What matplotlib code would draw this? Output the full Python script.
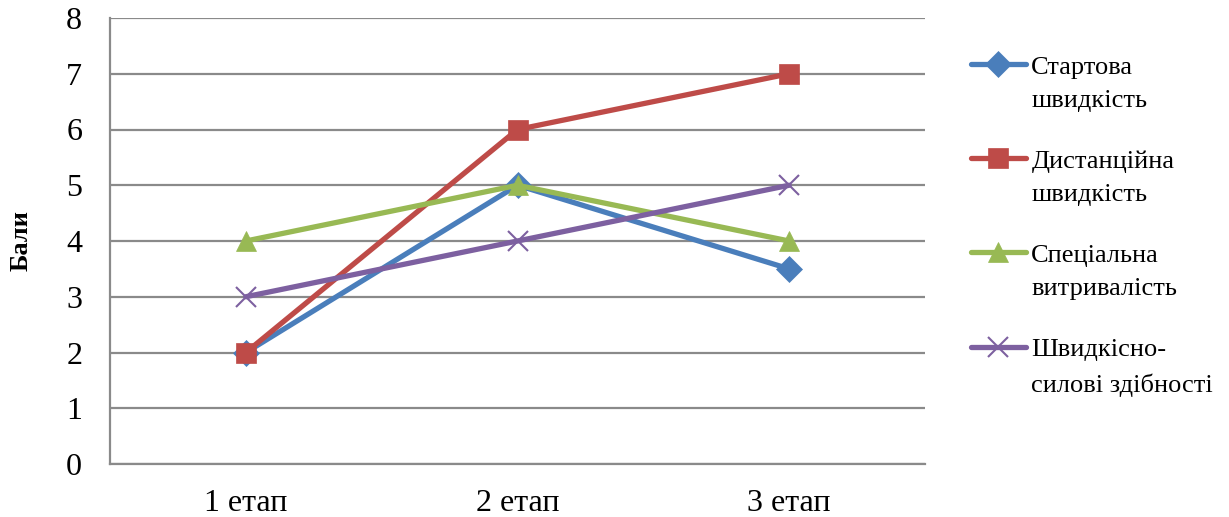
import numpy as np
import matplotlib.pyplot as plt
from matplotlib.lines import Line2D
from matplotlib.legend_handler import HandlerLine2D
from matplotlib.transforms import ScaledTranslation

plt.rcParams['font.family'] = ['Liberation Serif', 'DejaVu Serif']

stages = ['1 етап', '2 етап', '3 етап']
start_speed = [2, 5, 3.5]
distance_speed = [2, 6, 7]
special_endurance = [4, 5, 4]
speed_strength = [3, 4, 5]

series_labels = ['Стартова\nшвидкість', 'Дистанційна\nшвидкість',
                 'Спеціальна\nвитривалість', 'Швидкісно-\nсилові здібності']
colors = ['#4A7EBB', '#BE4B48', '#98B954', '#7D60A0']
markers = ['D', 's', '^', 'x']
marker_sizes = [13, 14, 15, 15]

grid_color = '#8A8A8A'

fig = plt.figure(figsize=(12.29, 5.17), dpi=100)
ax = fig.add_axes([110 / 1229, 1 - 464 / 517, 815 / 1229, 446 / 517])

x = np.arange(len(stages))
all_series = [start_speed, distance_speed, special_endurance, speed_strength]
for vals, lab, c, m, ms in zip(all_series, series_labels, colors, markers, marker_sizes):
    ax.plot(x, vals, color=c, lw=3.8, marker=m, markersize=ms,
            markeredgewidth=1.5 if m == 'x' else 0.5, markeredgecolor=c,
            label=lab, solid_capstyle='round', zorder=3)

ax.set_xlim(-0.5, 2.5)
ax.set_ylim(0, 8)
ax.set_yticks(range(0, 9))
ax.set_xticks(x)
ax.set_xticklabels(stages)
ax.yaxis.grid(True, color=grid_color, lw=1.6)
ax.set_axisbelow(True)

for side in ['top', 'right']:
    ax.spines[side].set_visible(False)
for side in ['left', 'bottom']:
    ax.spines[side].set_color(grid_color)
    ax.spines[side].set_linewidth(1.6)

ax.tick_params(axis='y', length=0, labelsize=23, pad=20)
ax.tick_params(axis='x', length=0, labelsize=23, pad=18)

ax.set_ylabel('Бали', fontsize=19, fontweight='bold', labelpad=24)


# legend handles sit level with the first line of each two-line label
class TopLineHandler(HandlerLine2D):
    def create_artists(self, legend, orig_handle, xdescent, ydescent,
                       width, height, fontsize, trans):
        shift = ScaledTranslation(0, 14 / 72, fig.dpi_scale_trans)
        return super().create_artists(legend, orig_handle, xdescent, ydescent,
                                      width, height, fontsize, trans + shift)


handles = [Line2D([], [], color=c, lw=3.8, marker=m, markersize=ms,
                  markeredgewidth=1.5 if m == 'x' else 0.5, markeredgecolor=c,
                  solid_capstyle='round')
           for c, m, ms in zip(colors, markers, marker_sizes)]
leg = fig.legend(handles, series_labels, loc='upper left',
                 bbox_to_anchor=(960 / 1229, 1 - 46 / 517),
                 frameon=False, fontsize=19, handlelength=2.1, handletextpad=0.2,
                 labelspacing=1.45, borderaxespad=0,
                 handler_map={Line2D: TopLineHandler()})
for t in leg.get_texts():
    t.set_linespacing(1.68)

fig.savefig('out.png', dpi=100)
